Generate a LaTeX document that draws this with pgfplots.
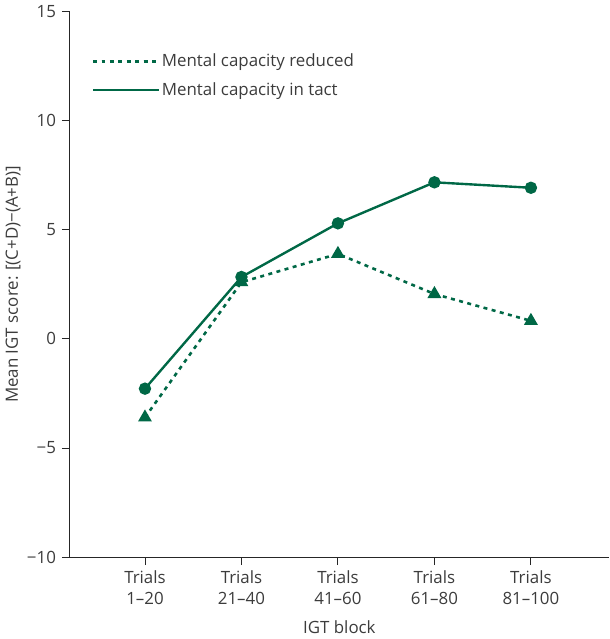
\documentclass[border=0pt]{standalone}
\usepackage{fontspec}
\setmainfont{Open Sans}
\usepackage{pgfplots}
\pgfplotsset{compat=1.18}
\definecolor{dg}{RGB}{0,104,70}
\definecolor{tx}{RGB}{60,60,60}
\begin{document}
\fontsize{17}{21}\selectfont
\begin{tikzpicture}
\begin{axis}[
  scale only axis, width=543pt, height=549pt,
  xmin=-0.78, xmax=4.81, ymin=-10, ymax=15,
  axis lines*=left, axis line style={black!85, line width=0.9pt},
  xtick={0,1,2,3,4},
  xticklabels={Trials\\1–20,Trials\\21–40,Trials\\41–60,Trials\\61–80,Trials\\81–100},
  xticklabel style={align=center, text=tx, font=\fontsize{17}{21}\selectfont},
  ytick={-10,-5,0,5,10,15},
  yticklabels={−10,−5,0,5,10,15},
  yticklabel style={text=tx, font=\fontsize{17}{21}\selectfont},
  tick style={black!85, line width=0.9pt},
  major tick length=8pt, tick align=outside,
  xlabel={IGT block},
  ylabel={Mean IGT score: [(C+D)−(A+B)]},
  xlabel style={at={(rel axis cs:0.5,-0.128)}, anchor=center, text=tx, font=\fontsize{17}{21}\selectfont},
  ylabel style={at={(rel axis cs:-0.105,0.5)}, anchor=center, text=tx, font=\fontsize{17}{21}\selectfont},
  legend style={at={(rel axis cs:0.035,0.93)}, anchor=north west, draw=none, fill=none,
    font=\fontsize{17}{21}\selectfont, text=tx, row sep=9pt},
  legend cell align=left,
  legend image code/.code={\draw[#1] (0pt,0pt) -- (56pt,0pt); \path (0pt,0pt) -- (66pt,0pt);},
  clip=false,
]
\addplot[dg, line width=2.6pt, dash pattern=on 4pt off 4.5pt, mark=triangle*, mark size=5.5pt, mark options={solid}]
  coordinates {(0,-3.6) (1,2.6) (2,3.9) (3,2.06) (4,0.83)};
\addlegendentry{Mental capacity reduced}
\addplot[dg, line width=2.4pt, mark=*, mark size=5pt]
  coordinates {(0,-2.28) (1,2.84) (2,5.3) (3,7.18) (4,6.93)};
\addlegendentry{Mental capacity in tact}
\end{axis}
\end{tikzpicture}
\end{document}
